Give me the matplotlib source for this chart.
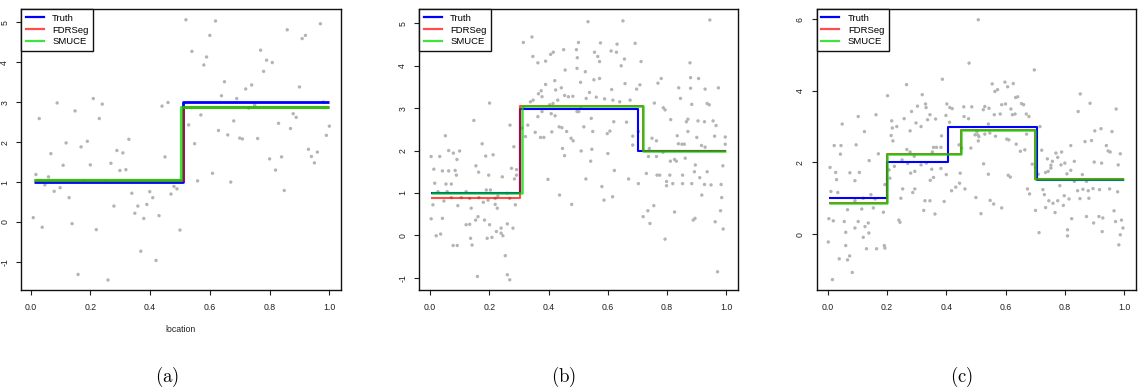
import numpy as np
import matplotlib
matplotlib.use("Agg")
import matplotlib.pyplot as plt
from matplotlib.lines import Line2D

plt.rcParams['font.family'] = ['Liberation Sans', 'DejaVu Sans']
plt.rcParams['mathtext.fontset'] = 'cm'

# ---------------- panel (a) ----------------
pts_a = [
    (0.018, 1.19), (0.029, 2.59), (0.009, 0.11), (0.039, -0.13), (0.048, 0.93), (0.06, 1.13),
    (0.068, 1.71), (0.079, 0.77), (0.089, 2.98), (0.099, 0.86), (0.109, 1.42), (0.119, 1.98),
    (0.129, 0.61), (0.139, -0.04), (0.149, 2.78), (0.159, -1.31), (0.169, 1.88), (0.18, 1.02),
    (0.19, 2.02), (0.2, 1.43), (0.21, 3.09), (0.22, -0.19), (0.23, 2.59), (0.24, 2.95),
    (0.25, 1.02), (0.259, -1.45), (0.269, 1.47), (0.279, 0.4), (0.289, 1.79), (0.299, 1.29),
    (0.309, 1.73), (0.319, 1.31), (0.329, 2.07), (0.339, 0.72), (0.349, 0.22), (0.359, 0.4),
    (0.369, -0.73), (0.379, 0.09), (0.389, 0.44), (0.399, 0.76), (0.409, 0.61), (0.42, -0.96),
    (0.43, 0.16), (0.44, 2.9), (0.45, 1.63), (0.46, 2.99), (0.47, 0.7), (0.48, 0.89),
    (0.49, 0.83), (0.5, -0.2),
    (0.52, 5.06), (0.529, 2.43), (0.54, 4.27), (0.549, 1.96), (0.559, 1.03), (0.57, 2.68),
    (0.58, 3.93), (0.589, 4.13), (0.6, 4.67), (0.609, 1.22), (0.619, 5.03), (0.629, 2.29),
    (0.639, 3.16), (0.649, 3.51), (0.66, 2.18), (0.67, 1.0), (0.68, 2.53), (0.69, 3.09),
    (0.7, 2.1), (0.709, 2.08), (0.72, 3.33), (0.73, 2.85), (0.74, 3.43), (0.75, 2.93),
    (0.76, 2.09), (0.77, 4.3), (0.78, 3.77), (0.79, 4.05), (0.8, 1.58), (0.809, 3.99),
    (0.82, 1.3), (0.83, 2.47), (0.84, 1.63), (0.849, 0.79), (0.859, 4.81), (0.87, 2.34),
    (0.879, 2.71), (0.889, 2.62), (0.9, 3.38), (0.909, 4.59), (0.92, 4.67), (0.93, 1.82),
    (0.94, 1.64), (0.95, 1.48), (0.96, 1.75), (0.97, 4.96), (0.98, 3.0), (0.99, 2.17),
    (1.0, 2.4),
]
truth_a_start = [0.01, 0.51]
truth_a_level = [1.0, 3.0]
fdr_a_start = [0.01, 0.51]
fdr_a_level = [1.06, 2.87]
smuce_a_start = [0.01, 0.505]
smuce_a_level = [1.06, 2.87]

# ---------------- panel (b) ----------------
pts_b = [
    (0.004, 1.86), (0.033, 1.86), (0.013, 1.56), (0.042, 1.52), (0.063, 1.52), (0.085, 1.53),
    (0.052, 2.35), (0.063, 2.0), (0.079, 1.94), (0.1, 1.99), (0.091, 1.79), (0.148, 2.71),
    (0.176, 2.16), (0.188, 1.87), (0.213, 1.9), (0.155, 1.64), (0.164, 1.49), (0.198, 1.42),
    (0.244, 1.38), (0.283, 2.09), (0.275, 1.58), (0.292, 1.55), (0.292, 1.42), (0.201, 3.12),
    (0.27, 2.6), (0.285, 1.33), (0.089, 1.42),
    (0.016, 1.23), (0.054, 1.21), (0.072, 1.21), (0.027, 1.03), (0.058, 1.03), (0.122, 1.03),
    (0.19, 1.07), (0.204, 1.07), (0.261, 0.99), (0.229, 0.93), (0.01, 0.72), (0.047, 0.81),
    (0.072, 0.89), (0.106, 0.89), (0.134, 0.87), (0.165, 0.89), (0.196, 0.83), (0.22, 0.87),
    (0.269, 0.87), (0.288, 0.72), (0.094, 0.7), (0.139, 0.64), (0.22, 0.73), (0.227, 0.64),
    (0.18, 0.78),
    (0.004, 0.39), (0.042, 0.4), (0.021, -0.01), (0.036, 0.03), (0.078, -0.24), (0.092, -0.24),
    (0.162, 0.44), (0.154, 0.36), (0.184, 0.36), (0.122, 0.25), (0.134, 0.26), (0.201, 0.25),
    (0.24, 0.17), (0.261, 0.27), (0.28, 0.17), (0.224, 0.09), (0.193, -0.07), (0.209, -0.05),
    (0.137, -0.07), (0.142, -0.23), (0.246, -0.01), (0.254, -0.48), (0.16, -0.97),
    (0.261, -0.93), (0.269, -1.05), (0.24, 0.05),
    (0.315, 4.55), (0.344, 4.68), (0.347, 4.22), (0.364, 4.07), (0.39, 4.11), (0.407, 4.27),
    (0.416, 4.32), (0.451, 4.38), (0.494, 4.38), (0.497, 4.19), (0.456, 3.9), (0.496, 3.94),
    (0.421, 3.65), (0.424, 3.43), (0.443, 3.48), (0.39, 3.56), (0.375, 3.41), (0.366, 3.34),
    (0.378, 3.27), (0.339, 3.15), (0.348, 3.19), (0.317, 3.0), (0.404, 3.08), (0.415, 3.11),
    (0.431, 3.19), (0.454, 3.3), (0.467, 3.27), (0.482, 3.28), (0.496, 2.92), (0.509, 3.0),
    (0.409, 2.87), (0.422, 2.82), (0.364, 2.8), (0.378, 2.92), (0.322, 2.33), (0.355, 2.43),
    (0.373, 2.31), (0.384, 2.31), (0.411, 2.44), (0.436, 2.56), (0.445, 2.54), (0.461, 2.45),
    (0.476, 2.29), (0.483, 2.23), (0.51, 1.99), (0.447, 2.05), (0.454, 1.88), (0.398, 1.32),
    (0.437, 0.95), (0.478, 0.73), (0.31, 2.53), (0.33, 2.6),
    (0.533, 5.04), (0.651, 5.06), (0.944, 5.08), (0.501, 4.55), (0.575, 4.54), (0.631, 4.51),
    (0.611, 4.35), (0.629, 4.32), (0.555, 4.32), (0.566, 4.22), (0.572, 4.1), (0.656, 4.16),
    (0.645, 4.0), (0.692, 4.53), (0.712, 4.1), (0.524, 3.86), (0.508, 3.61),
    (0.553, 3.67), (0.572, 3.7), (0.613, 3.44), (0.658, 3.58), (0.697, 3.45), (0.708, 3.55),
    (0.769, 3.59), (0.78, 3.7), (0.839, 3.48), (0.879, 3.72), (0.906, 3.7), (0.879, 3.47),
    (0.928, 3.45), (0.973, 3.48), (0.877, 4.07), (0.845, 3.23), (0.883, 3.09), (0.935, 3.11),
    (0.942, 3.08), (0.538, 3.37), (0.527, 3.23), (0.561, 3.26), (0.589, 3.22), (0.617, 3.19),
    (0.64, 3.15), (0.675, 3.19), (0.757, 3.12), (0.787, 3.01), (0.793, 2.96), (0.812, 2.73),
    (0.865, 2.68), (0.87, 2.74), (0.904, 2.7), (0.926, 2.68), (0.955, 2.7), (0.965, 2.59),
    (0.502, 2.92), (0.544, 2.76), (0.519, 2.56), (0.549, 2.45), (0.598, 2.4),
    (0.607, 2.46), (0.62, 2.68), (0.663, 2.67), (0.684, 2.34), (0.684, 2.13), (0.703, 2.45),
    (0.749, 2.29), (0.764, 2.23), (0.834, 2.35), (0.838, 2.16), (0.85, 2.15), (0.858, 2.15),
    (0.87, 2.45), (0.9, 2.31), (0.916, 2.12), (0.928, 2.08), (0.96, 2.34), (0.996, 2.32),
    (0.996, 2.15), (0.546, 2.03), (0.542, 1.75), (0.6, 1.93), (0.74, 2.05),
    (0.737, 1.86), (0.764, 1.86), (0.786, 1.96), (0.811, 1.75), (0.825, 1.79), (0.831, 1.75),
    (0.861, 1.82), (0.895, 1.66), (0.892, 1.5), (0.935, 1.5), (0.988, 1.64), (0.526, 1.33),
    (0.622, 1.53), (0.67, 1.33), (0.703, 1.22), (0.73, 1.46), (0.766, 1.42), (0.775, 1.42),
    (0.798, 1.27), (0.798, 1.17), (0.819, 1.22), (0.809, 1.42), (0.852, 1.22), (0.852, 1.42),
    (0.883, 1.22), (0.91, 1.36), (0.926, 1.2), (0.948, 1.19), (0.982, 1.2), (0.58, 1.15),
    (0.587, 0.83), (0.616, 0.91), (0.755, 0.7), (0.735, 0.58), (0.719, 0.44), (0.742, 0.28),
    (0.825, 0.55), (0.888, 0.36), (0.894, 0.4), (0.917, 0.95), (0.962, 0.32), (0.98, 0.58),
    (0.984, 0.89), (0.989, 0.15), (0.793, -0.09), (0.97, -0.86),
]
truth_b_start = [0.003, 0.303, 0.703]
truth_b_level = [1.0, 2.99, 2.0]
fdr_b_start = [0.003, 0.303, 0.719]
fdr_b_level = [0.87, 3.04, 1.99]
smuce_b_start = [0.003, 0.311, 0.719]
smuce_b_level = [0.99, 3.04, 1.99]

# ---------------- panel (c) ----------------
pts_c = [
    (0.508, 5.98), (0.477, 4.77), (0.387, 4.32), (0.266, 4.17), (0.202, 3.86), (0.319, 3.89),
    (0.103, 3.28), (0.163, 3.33), (0.049, 3.07), (0.124, 2.86), (0.096, 2.49), (0.022, 2.47),
    (0.045, 2.47), (0.043, 2.23), (0.008, 1.86), (0.027, 1.72), (0.03, 1.52), (0.075, 1.71),
    (0.107, 1.72), (0.092, 1.49), (0.14, 2.05), (0.171, 2.24), (0.216, 3.16), (0.233, 3.0),
    (0.258, 3.22), (0.218, 2.96), (0.214, 2.75), (0.22, 2.6), (0.278, 2.88), (0.283, 3.42),
    (0.298, 3.1), (0.303, 3.57), (0.315, 3.0), (0.33, 3.63), (0.332, 3.53), (0.337, 3.19),
    (0.345, 3.33), (0.364, 3.21), (0.384, 2.74), (0.402, 3.63), (0.412, 3.53), (0.42, 3.5),
    (0.459, 3.55), (0.486, 3.55), (0.46, 3.28), (0.475, 3.22), (0.399, 3.31), (0.411, 3.12),
    (0.357, 2.42), (0.367, 2.42), (0.382, 2.42), (0.353, 2.29), (0.443, 2.49), (0.452, 2.4),
    (0.483, 2.4), (0.497, 2.77), (0.503, 2.86), (0.51, 2.72), (0.251, 2.07), (0.278, 2.29),
    (0.267, 2.36), (0.292, 2.17), (0.27, 1.97), (0.28, 1.7), (0.294, 1.75), (0.315, 1.93),
    (0.333, 1.98), (0.351, 1.81), (0.346, 1.5), (0.357, 1.58), (0.382, 1.83), (0.4, 1.66),
    (0.418, 1.21), (0.432, 1.31), (0.447, 1.7), (0.445, 1.42), (0.463, 1.26), (0.5, 1.02),
    (0.207, 1.79), (0.225, 1.89), (0.21, 1.56), (0.253, 1.26), (0.247, 1.0), (0.287, 1.16),
    (0.294, 1.26), (0.328, 0.93), (0.345, 0.93), (0.362, 0.56), (0.324, 0.66), (0.393, 0.91),
    (0.193, 1.38), (0.188, 0.61), (0.16, 0.98), (0.154, 0.73), (0.146, 1.1), (0.12, 1.0),
    (0.115, 0.7), (0.092, 0.93), (0.067, 0.68), (0.056, 0.35), (0.019, 0.37), (0.061, 0.05),
    (0.092, 0.17), (0.103, 0.35), (0.126, 0.21), (0.137, 0.31), (0.139, 0.03), (0.12, -0.09),
    (0.131, -0.41), (0.165, -0.41), (0.191, -0.32), (0.193, -0.39), (0.24, 0.39), (0.244, 0.33),
    (0.004, 0.43), (0.011, 1.19), (0.034, 1.16), (0.002, -0.22), (0.039, -0.69), (0.061, -0.32),
    (0.074, -0.61), (0.067, -0.72), (0.083, -1.07), (0.016, -1.27),
    (0.697, 4.58), (0.852, 3.91), (0.885, 3.65), (0.973, 3.49), (0.845, 3.42), (0.555, 4.19),
    (0.564, 3.98), (0.573, 4.03), (0.598, 4.24), (0.607, 4.11), (0.626, 4.2), (0.641, 3.83),
    (0.634, 3.81), (0.654, 3.64), (0.661, 3.61), (0.587, 3.61), (0.6, 3.63), (0.53, 3.56),
    (0.525, 3.47), (0.544, 3.51), (0.562, 3.33), (0.582, 3.35), (0.618, 3.49), (0.623, 3.33),
    (0.632, 3.35), (0.67, 3.35), (0.679, 3.28), (0.506, 2.77), (0.508, 2.6),
    (0.542, 3.07), (0.53, 2.79), (0.547, 2.82), (0.566, 2.73), (0.604, 2.65), (0.611, 2.63),
    (0.636, 2.51), (0.65, 2.31), (0.665, 2.35), (0.671, 2.79), (0.716, 3.0), (0.722, 2.34),
    (0.77, 2.26), (0.789, 2.29), (0.741, 2.1), (0.758, 2.03), (0.776, 2.14), (0.753, 1.92),
    (0.787, 1.93), (0.8, 1.98), (0.82, 2.47), (0.832, 2.03), (0.868, 2.58), (0.89, 2.61),
    (0.901, 2.88), (0.922, 2.94), (0.959, 2.86), (0.94, 2.47), (0.946, 2.32), (0.953, 2.29),
    (0.987, 2.24), (0.899, 2.01), (0.924, 1.98), (0.98, 1.93), (0.526, 1.96), (0.542, 1.67),
    (0.609, 1.64), (0.616, 1.59), (0.69, 1.95), (0.701, 1.86), (0.71, 1.67), (0.735, 1.72),
    (0.744, 1.75), (0.753, 1.84), (0.807, 1.68), (0.82, 1.78), (0.859, 1.66), (0.873, 1.47),
    (0.832, 1.47), (0.783, 1.35), (0.726, 1.24), (0.731, 1.1), (0.674, 1.26), (0.681, 1.12),
    (0.843, 1.21), (0.861, 1.25), (0.879, 1.21), (0.895, 1.27), (0.917, 1.24), (0.951, 1.26),
    (0.978, 1.18), (0.881, 1.0), (0.851, 0.99), (0.798, 1.07), (0.814, 0.98), (0.795, 0.8),
    (0.776, 0.93), (0.76, 0.86), (0.746, 0.93), (0.735, 0.74), (0.767, 0.6), (0.701, 0.66),
    (0.548, 0.94), (0.56, 0.84), (0.587, 0.73), (0.517, 0.57), (0.823, 0.43),
    (0.873, 0.49), (0.897, 0.31), (0.915, 0.49), (0.928, 0.45), (0.966, 0.65), (0.971, 0.35),
    (0.991, 0.39), (0.996, 0.17), (0.987, -0.02), (0.982, -0.3), (0.926, 0.07), (0.809, 0.12),
    (0.809, -0.05), (0.713, 0.04),
]
truth_c_start = [0.003, 0.2, 0.405, 0.705]
truth_c_level = [1.0, 2.0, 2.99, 1.51]
fdr_c_start = [0.003, 0.2, 0.449, 0.7]
fdr_c_level = [0.86, 2.23, 2.9, 1.53]
smuce_c_start = [0.003, 0.2, 0.449, 0.7]
smuce_c_level = [0.86, 2.23, 2.9, 1.53]

names = ["Truth", "FDRSeg", "SMUCE"]
captions = ["(a)", "(b)", "(c)"]

BLUE = "#0000FF"
RED = (1.0, 0.0, 0.0, 0.7)
GREEN = (0.0, 0.85, 0.0, 0.75)


def draw_steps(ax, starts, levels, color, lw):
    xs = list(starts) + [1.0]
    ys = list(levels) + [levels[-1]]
    ax.step(xs, ys, where="post", color=color, lw=lw, solid_capstyle="butt")


fig = plt.figure(figsize=(11.38, 3.88), dpi=100)

panels = [
    dict(pts=pts_a, truth=(truth_a_start, truth_a_level), fdr=(fdr_a_start, fdr_a_level),
         smuce=(smuce_a_start, smuce_a_level), rect=[21 / 1138, 98 / 388, 320 / 1138, 281 / 388],
         xlim=(-0.032, 1.039), ylim=(-1.7, 5.33), yticks=[-1, 0, 1, 2, 3, 4, 5], lw=2.0,
         xlabel="location", cap_x=166.7),
    dict(pts=pts_b, truth=(truth_b_start, truth_b_level), fdr=(fdr_b_start, fdr_b_level),
         smuce=(smuce_b_start, smuce_b_level), rect=[419 / 1138, 98 / 388, 319 / 1138, 281 / 388],
         xlim=(-0.037, 1.039), ylim=(-1.29, 5.34), yticks=[-1, 0, 1, 2, 3, 4, 5], lw=1.5,
         xlabel=None, cap_x=563.3),
    dict(pts=pts_c, truth=(truth_c_start, truth_c_level), fdr=(fdr_c_start, fdr_c_level),
         smuce=(smuce_c_start, smuce_c_level), rect=[816.7 / 1138, 98 / 388, 319 / 1138, 281 / 388],
         xlim=(-0.037, 1.039), ylim=(-1.56, 6.28), yticks=[0, 2, 4, 6], lw=1.5,
         xlabel=None, cap_x=961.7),
]

for p, cap in zip(panels, captions):
    ax = fig.add_axes(p["rect"])
    xy = np.array(p["pts"])
    ax.scatter(xy[:, 0], xy[:, 1], s=6, color="#B4B4B4", edgecolors="none", zorder=1)
    draw_steps(ax, *p["truth"], BLUE, p["lw"])
    draw_steps(ax, *p["fdr"], RED, p["lw"])
    draw_steps(ax, *p["smuce"], GREEN, p["lw"] + 0.3)

    ax.set_xlim(*p["xlim"])
    ax.set_ylim(*p["ylim"])
    ax.set_xticks([0.0, 0.2, 0.4, 0.6, 0.8, 1.0])
    ax.set_xticklabels(["0.0", "0.2", "0.4", "0.6", "0.8", "1.0"])
    ax.set_yticks(p["yticks"])
    ax.set_yticklabels([str(v) for v in p["yticks"]], rotation=90, va="center")
    ax.tick_params(direction="out", length=3.5, width=0.8, labelsize=6.3,
                   colors="#222222", pad=6)
    ax.tick_params(axis="y", pad=5)
    for s in ax.spines.values():
        s.set_linewidth(1.0)
        s.set_color("#111111")
    if p["xlabel"]:
        ax.set_xlabel(p["xlabel"], fontsize=6.3, labelpad=9, color="#222222")

    handles = [Line2D([], [], color=c, lw=1.6) for c in (BLUE, RED, GREEN)]
    leg = ax.legend(handles, names, loc="upper left", borderaxespad=0, fancybox=False,
                    edgecolor="#111111", framealpha=1, fontsize=6.8, handlelength=1.9,
                    handletextpad=0.9, labelspacing=0.3, borderpad=0.5)
    leg.get_frame().set_linewidth(1.0)

    fig.text(p["cap_x"] / 1138, 1 - 377 / 388, r"$\mathrm{" + cap + "}$",
             ha="center", va="center", fontsize=13.5)

fig.savefig("out.png", dpi=100)
